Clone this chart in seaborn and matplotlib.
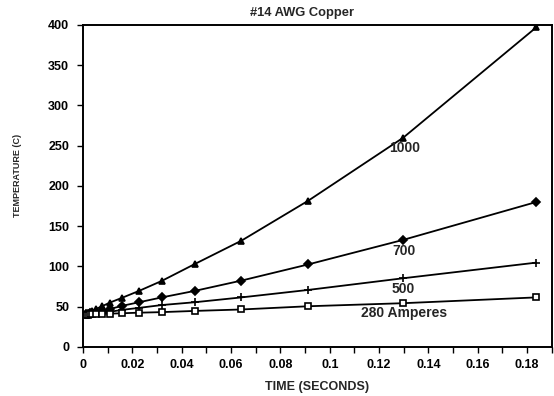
import matplotlib
matplotlib.use("Agg")
import matplotlib.pyplot as plt
import seaborn as sns
import pandas as pd
from matplotlib.ticker import MultipleLocator

# Data
time_s = [0.0013, 0.0019, 0.0027, 0.0038, 0.0054, 0.0077, 0.0108, 0.0158,
          0.0227, 0.0319, 0.0453, 0.0642, 0.0913, 0.1298, 0.1837]
temp_1000 = [41.8, 42.6, 43.7, 45.2, 47.4, 50.5, 55.0, 61.0,
             69.6, 82.0, 103.0, 132.0, 181.7, 260.0, 397.0]
temp_700 = [40.8, 41.2, 41.7, 42.5, 43.5, 45.0, 47.0, 51.0,
            55.5, 61.5, 69.6, 82.4, 102.5, 133.0, 180.0]
temp_500 = [40.4, 40.6, 40.9, 41.2, 41.8, 42.6, 43.6, 46.0,
            48.5, 52.0, 55.5, 61.5, 70.8, 85.3, 104.7]
temp_280 = [40.1, 40.2, 40.3, 40.5, 40.7, 41.0, 41.3, 41.8,
            42.5, 43.2, 44.7, 46.5, 50.5, 54.3, 61.5]
series_labels = ["1000", "700", "500", "280 Amperes"]
x_ticks = [0, 0.02, 0.04, 0.06, 0.08, 0.1, 0.12, 0.14, 0.16, 0.18]
x_tick_labels = ["0", "0.02", "0.04", "0.06", "0.08", "0.1", "0.12", "0.14", "0.16", "0.18"]
y_ticks = [0, 50, 100, 150, 200, 250, 300, 350, 400]

sns.set_style("ticks")
plt.rcParams["font.family"] = ["Liberation Sans", "DejaVu Sans"]

fig = plt.figure(figsize=(5.54, 3.96), dpi=100)
ax = fig.add_axes([0.150, 0.124, 0.846, 0.813])

series = [
    (temp_1000, "^", "black", 5),
    (temp_700, "D", "black", 4),
    (temp_500, "+", "black", 6),
    (temp_280, "s", "white", 5),
]
for (vals, mk, fc, ms), lab in zip(series, series_labels):
    df = pd.DataFrame({"t": time_s, "T": vals})
    sns.lineplot(data=df, x="t", y="T", ax=ax, color="black", linewidth=1.3,
                 marker=mk, markersize=ms, markerfacecolor=fc,
                 markeredgecolor="black", markeredgewidth=1.2, legend=False)

# Curve labels
lab_kw = dict(ha="center", va="center", fontsize=10, fontweight="bold")
ax.text(0.1305, 247, series_labels[0], **lab_kw)
ax.text(0.1300, 119, series_labels[1], **lab_kw)
ax.text(0.1297, 72, series_labels[2], **lab_kw)
ax.text(0.1300, 42.6, series_labels[3], **lab_kw)

ax.set_xlim(0, 0.19)
ax.set_ylim(0, 400)
ax.set_xticks(x_ticks)
ax.set_xticklabels(x_tick_labels)
ax.xaxis.set_minor_locator(MultipleLocator(0.01))
ax.set_yticks(y_ticks)
ax.tick_params(axis="both", which="both", direction="out", colors="black",
               labelsize=9, width=1.0)
ax.tick_params(axis="both", which="major", length=4)
ax.tick_params(axis="y", which="major", pad=6)
ax.tick_params(axis="x", which="both", length=4, pad=5)
for lbl in ax.get_xticklabels() + ax.get_yticklabels():
    lbl.set_fontweight("bold")

for sp in ax.spines.values():
    sp.set_visible(True)
    sp.set_color("black")
    sp.set_linewidth(1.4)

ax.set_xlabel("TIME (SECONDS)", fontsize=9, fontweight="bold", labelpad=7)
ax.set_ylabel("TEMPERATURE (C)", fontsize=6.5, fontweight="bold")
ax.yaxis.set_label_coords(-0.13, 0.534)
fig.text(302 / 554, 1 - 13 / 396, "#14 AWG Copper", ha="center", va="center",
         fontsize=9.3, fontweight="bold")

fig.savefig("out.png", dpi=100)
